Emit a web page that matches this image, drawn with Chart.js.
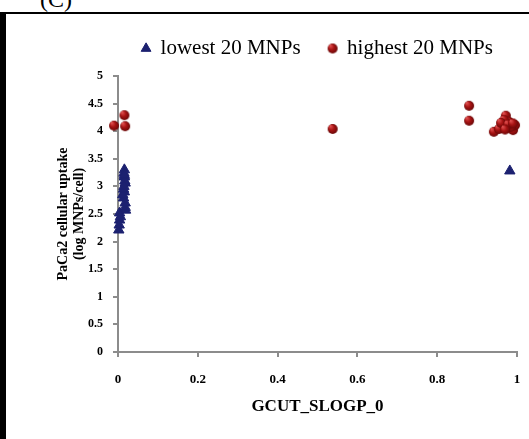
<!DOCTYPE html>
<html>
<head>
<meta charset="utf-8">
<script src="https://cdn.jsdelivr.net/npm/chart.js@4.4.0/dist/chart.umd.min.js"></script>
<style>
  body { margin: 0; background: #fff; }
  #wrap { position: relative; width: 529px; height: 439px; overflow: hidden; }
  #frame { position: absolute; left: 0; top: 12px; width: 529px; height: 427px;
           border-left: 6px solid #000; border-top: 2px solid #000; box-sizing: border-box; }
  #tag { position: absolute; left: 40px; top: -14px; font: 24px "Liberation Serif", serif; color: #000; }
  canvas { position: absolute; left: 0; top: 0; }
</style>
</head>
<body>
<div id="wrap">
  <div id="tag">(C)</div>
  <div id="frame"></div>
  <canvas id="chart" width="529" height="439"></canvas>
</div>
<script>
// lowest 20 MNPs (triangles)
const lowestX = [0.016, 0.016, 0.018, 0.016, 0.014, 0.019, 0.004, 0.004, 0.002, 0.015, 0.017, 0.012, 0.018, 0.006, 0.016, 0.014, 0.018, 0.003, 0.015, 0.982];
const lowestY = [3.30, 3.17, 3.06, 2.90, 2.79, 2.57, 2.52, 2.39, 2.21, 3.24, 3.10, 2.85, 2.62, 2.45, 3.20, 2.95, 2.70, 2.30, 3.00, 3.28];

// highest 20 MNPs (spheres)
const highestX = [-0.01, 0.018, 0.016, 0.538, 0.88, 0.88, 0.942, 0.965, 0.972, 0.98, 0.99, 0.955, 0.995, 0.975, 0.968, 0.985, 0.96, 0.978, 0.99, 0.97];
const highestY = [4.10, 4.09, 4.29, 4.04, 4.46, 4.19, 3.99, 4.13, 4.28, 4.17, 4.02, 4.04, 4.11, 4.06, 4.20, 4.08, 4.15, 4.12, 4.14, 4.03];

const xTicks = [0, 0.2, 0.4, 0.6, 0.8, 1];
const yTicks = [0, 0.5, 1, 1.5, 2, 2.5, 3, 3.5, 4, 4.5, 5];

// small shaded sphere used as the point marker
function sphere(r) {
    const c = document.createElement('canvas');
    c.width = c.height = r * 2 + 2;
    const g = c.getContext('2d');
    const grad = g.createRadialGradient(r * 0.7, r * 0.6, 0.5, r + 1, r + 1, r);
    grad.addColorStop(0, '#e05050');
    grad.addColorStop(0.5, '#a81414');
    grad.addColorStop(1, '#6a0808');
    g.fillStyle = grad;
    g.beginPath();
    g.arc(r + 1, r + 1, r, 0, Math.PI * 2);
    g.fill();
    return c;
}

function toPoints(xs, ys) {
    return xs.map((x, i) => ({ x: x, y: ys[i] }));
}

const serif = '"Liberation Serif", "Times New Roman", serif';

// fixed legend height, and legend centred over the plot area instead of the canvas
const legendBox = {
    id: 'legendBox',
    beforeInit(chart) {
        const fit = chart.legend.fit;
        chart.legend.fit = function () {
            fit.call(this);
            this.height = 66;
        };
    },
    afterLayout(chart) {
        const lg = chart.legend;
        const area = chart.chartArea;
        const shift = (area.left + area.right) / 2 - (lg.left + lg.right) / 2;
        lg.left += shift;
        lg.right += shift;
        lg.adjustHitBoxes();
    }
};

new Chart(document.getElementById('chart'), {
    type: 'scatter',
    data: {
        datasets: [
            {
                label: 'lowest 20 MNPs',
                data: toPoints(lowestX, lowestY),
                pointStyle: 'triangle',
                pointRadius: 6,
                backgroundColor: '#1c2170',
                borderColor: '#1c2170',
                borderWidth: 1
            },
            {
                label: 'highest 20 MNPs',
                data: toPoints(highestX, highestY),
                pointStyle: sphere(5),
                pointRadius: 5,
                backgroundColor: '#a01010',
                borderColor: '#a01010'
            }
        ]
    },
    options: {
        responsive: false,
        animation: false,
        clip: false,
        layout: { padding: { top: 10, left: 56, right: 12, bottom: 22 } },
        plugins: {
            legend: {
                position: 'top',
                labels: {
                    usePointStyle: true,
                    boxWidth: 8,
                    boxHeight: 8,
                    padding: 28,
                    color: '#000',
                    font: { family: serif, size: 21 }
                }
            },
            tooltip: { enabled: false }
        },
        scales: {
            x: {
                type: 'linear',
                min: 0,
                max: 1,
                afterBuildTicks: s => { s.ticks = xTicks.map(v => ({ value: v })); },
                afterFit: s => { s.height = 65; s.paddingRight = 0; },
                grid: { drawOnChartArea: false, drawTicks: true, tickLength: 5, color: '#8c8c8c', lineWidth: 2 },
                border: { color: '#8c8c8c', width: 2 },
                ticks: { color: '#000', padding: 15, callback: v => String(v), font: { family: serif, size: 13, weight: 'bold' } },
                title: {
                    display: true,
                    text: 'GCUT_SLOGP_0',
                    color: '#000',
                    padding: 0,
                    font: { family: serif, size: 17, weight: 'bold' }
                }
            },
            y: {
                min: 0,
                max: 5,
                afterBuildTicks: s => { s.ticks = yTicks.map(v => ({ value: v })); },
                afterFit: s => { s.width = 62; },
                grid: { drawOnChartArea: false, drawTicks: true, tickLength: 5, color: '#8c8c8c', lineWidth: 2 },
                border: { color: '#8c8c8c', width: 2 },
                ticks: { color: '#000', padding: 10, callback: v => String(v), font: { family: serif, size: 12, weight: 'bold' } },
                title: {
                    display: true,
                    text: ['PaCa2 cellular uptake', '(log MNPs/cell)'],
                    color: '#000',
                    padding: 0,
                    font: { family: serif, size: 14, weight: 'bold', lineHeight: 1.1 }
                }
            }
        }
    },
    plugins: [legendBox]
});
</script>
</body>
</html>
